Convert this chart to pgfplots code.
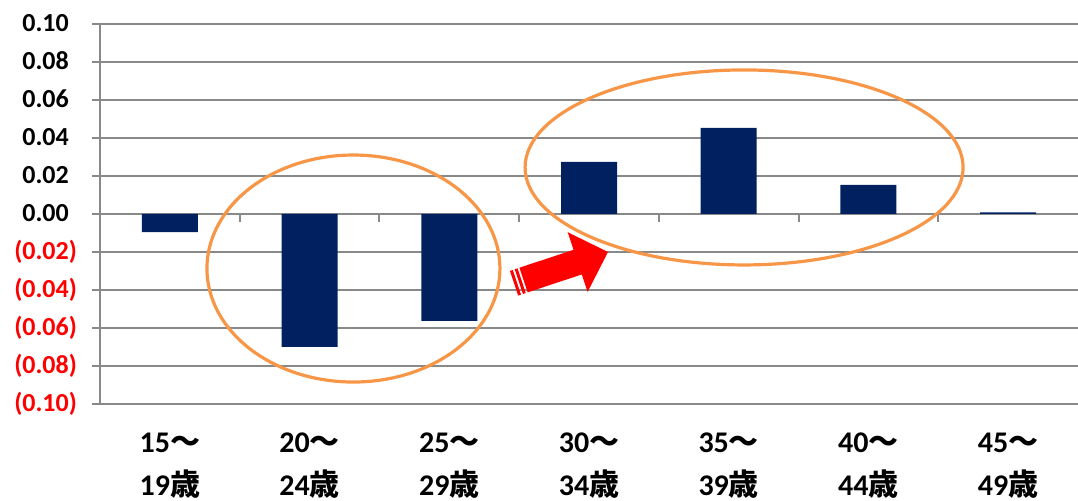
\documentclass[border=0pt]{standalone}
\usepackage{fontspec}
\setmainfont{Carlito}
\newfontfamily\jp{Noto Sans CJK JP}
\usepackage{pgfplots}
\pgfplotsset{compat=1.18}
\definecolor{barnavy}{RGB}{0,32,96}
\definecolor{gridgray}{RGB}{137,137,137}
\definecolor{ringorange}{RGB}{247,150,70}
\newcommand{\agelabel}[2]{#1{\jp ～}\\#2{\jp 歳}}
\newcommand{\neglab}[1]{\textcolor{red}{(#1)}}

\begin{document}
\begin{tikzpicture}
\begin{axis}[
    scale only axis,
    width=489pt, height=190pt,
    xmin=-0.5, xmax=6.5,
    ymin=-0.1, ymax=0.1,
    axis lines=left,
    axis line style={-, draw=gridgray, line width=1pt},
    ytick={-0.1,-0.08,-0.06,-0.04,-0.02,0,0.02,0.04,0.06,0.08,0.1},
    yticklabels={\neglab{0.10},\neglab{0.08},\neglab{0.06},\neglab{0.04},\neglab{0.02},
        0.00\phantom{)},0.02\phantom{)},0.04\phantom{)},0.06\phantom{)},0.08\phantom{)},0.10\phantom{)}},
    ymajorgrids,
    grid style={gridgray, line width=1pt},
    tick align=outside,
    major tick length=4pt,
    tick style={gridgray, line width=1pt},
    xtick={0,1,2,3,4,5,6},
    xtick style={draw=none},
    xticklabels={\agelabel{15}{19},\agelabel{20}{24},\agelabel{25}{29},\agelabel{30}{34},
        \agelabel{35}{39},\agelabel{40}{44},\agelabel{45}{49}},
    xticklabel style={align=center, font=\fontsize{15}{21.5}\selectfont\bfseries, yshift=-7pt},
    yticklabel style={font=\fontsize{13}{15}\selectfont\bfseries, xshift=-4pt},
    ybar, bar width=28pt, bar shift=0pt,
]
\addplot[fill=barnavy, draw=none] coordinates {
    (0,-0.0095) (1,-0.0700) (2,-0.0563) (3,0.0274) (4,0.0453) (5,0.0153) (6,0.0008)
};
% small ticks on the zero line between categories
\pgfplotsinvokeforeach{0.5,1.5,2.5,3.5,4.5,5.5}{
    \draw[gridgray, line width=1pt] (axis cs:#1,0) -- ++(0pt,-4pt);
}
% annotations
\draw[ringorange, line width=1.6pt] (axis cs:1.314,-0.0287) ellipse [x radius=73.25pt, y radius=56.75pt];
\draw[ringorange, line width=1.6pt] (axis cs:4.110,0.0245) ellipse [x radius=109.5pt, y radius=48.75pt];
\begin{scope}[shift={(axis cs:3.136,-0.02)}, rotate=18.4, x=0.5pt, y=0.5pt]
    \fill[red] (0,0) -- (-32,31.5) -- (-32,13) -- (-89,13) -- (-89,-13) -- (-32,-13) -- (-32,-31.5) -- cycle;
    \fill[red] (-91,13) rectangle (-94,-13);
    \fill[red] (-96,13) rectangle (-99,-13);
\end{scope}
\coordinate (ll) at (rel axis cs:0,0);
\coordinate (ur) at (rel axis cs:1,1);
\end{axis}
\pgfresetboundingbox
\path ([xshift=-50pt,yshift=-48.5pt]ll) rectangle ([yshift=12pt]ur);
\end{tikzpicture}
\end{document}
